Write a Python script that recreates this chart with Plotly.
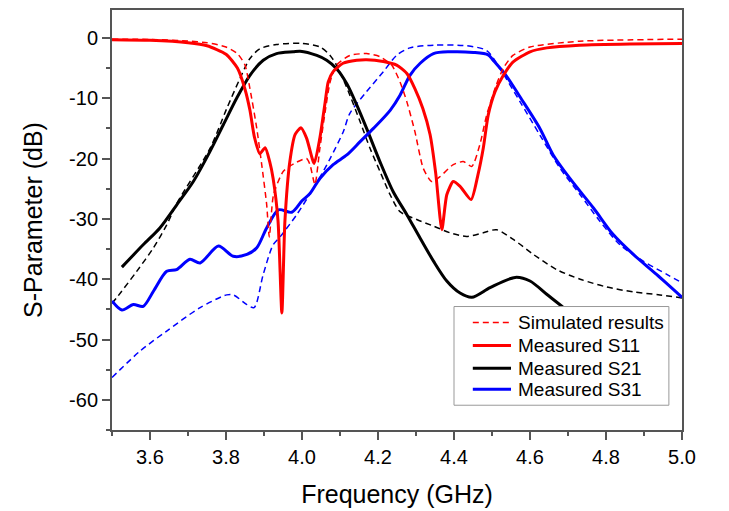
import plotly.graph_objects as go

# ---------------- data ----------------
s11_meas_f = [3.50, 3.60, 3.70, 3.75, 3.80, 3.83, 3.85, 3.863, 3.875, 3.889, 3.903, 3.915, 3.924, 3.937,
              3.947, 3.955, 3.968, 3.982, 3.997, 4.012, 4.032, 4.047, 4.061, 4.069, 4.082, 4.108, 4.144,
              4.170, 4.214, 4.249, 4.276, 4.297, 4.318, 4.337, 4.352, 4.368, 4.381, 4.398, 4.416, 4.445,
              4.463, 4.477, 4.490, 4.508, 4.530, 4.555, 4.600, 4.644, 4.730, 4.863, 5.000]
s11_meas_db = [-0.3, -0.4, -0.8, -1.3, -2.7, -5.0, -8.5, -12.0, -16.5, -19.2, -18.2, -20.5, -23.3, -30.4,
               -45.6, -30.4, -20.5, -16.0, -14.9, -16.6, -20.8, -16.6, -10.6, -7.3, -5.6, -4.2, -3.7,
               -3.6, -3.9, -4.5, -5.9, -8.4, -11.7, -16.0, -22.5, -31.8, -26.0, -23.8, -24.6, -26.8,
               -22.7, -18.3, -12.8, -8.9, -6.2, -4.0, -2.3, -1.65, -1.2, -1.0, -0.94]

s11_sim_f = [3.50, 3.60, 3.70, 3.75, 3.80, 3.83, 3.85, 3.863, 3.881, 3.894, 3.907, 3.914, 3.925, 3.951,
             3.986, 4.012, 4.021, 4.034, 4.047, 4.061, 4.074, 4.091, 4.126, 4.170, 4.205, 4.236, 4.258,
             4.276, 4.297, 4.319, 4.341, 4.363, 4.398, 4.424, 4.447, 4.468, 4.486, 4.510, 4.530, 4.555,
             4.600, 4.730, 5.000]
s11_sim_db = [-0.2, -0.25, -0.5, -0.8, -1.5, -2.6, -4.5, -8.4, -15.0, -21.0, -27.6, -33.0, -26.0, -22.1,
              -20.6, -20.0, -21.0, -24.3, -18.3, -12.2, -7.3, -4.5, -2.9, -2.6, -3.1, -4.5, -7.3,
              -10.6, -15.5, -21.6, -23.8, -23.0, -21.0, -20.5, -21.3, -17.7, -12.8, -8.0, -5.0, -2.9,
              -1.5, -0.55, -0.2]

s21_meas_f = [3.526, 3.582, 3.626, 3.670, 3.714, 3.758, 3.793, 3.828, 3.863, 3.898, 3.933, 3.977, 3.995,
              4.039, 4.065, 4.091, 4.118, 4.144, 4.170, 4.205, 4.240, 4.276, 4.311, 4.346, 4.381, 4.416,
              4.447, 4.495, 4.561, 4.600, 4.644, 4.688, 4.720]
s21_meas_db = [-38.0, -34.3, -31.5, -27.7, -23.8, -18.8, -14.4, -10.0, -6.2, -3.7, -2.6, -2.3, -2.2,
               -2.9, -3.7, -5.1, -7.6, -11.1, -15.0, -20.5, -25.5, -29.3, -33.2, -37.0, -40.3, -42.3,
               -43.0, -41.4, -39.7, -40.3, -42.5, -44.7, -46.5]

s21_sim_f = [3.500, 3.512, 3.565, 3.609, 3.644, 3.670, 3.758, 3.802, 3.837, 3.863, 3.889, 3.933, 4.000,
             4.047, 4.074, 4.096, 4.126, 4.153, 4.179, 4.205, 4.232, 4.258, 4.302, 4.346, 4.389, 4.433,
             4.477, 4.512, 4.556, 4.609, 4.670, 4.732, 4.802, 4.872, 4.942, 5.000]
s21_sim_db = [-44.0, -43.1, -38.7, -34.8, -31.0, -27.5, -18.3, -11.7, -6.7, -3.4, -1.8, -1.1, -0.9,
              -1.5, -2.9, -5.1, -9.5, -13.9, -18.3, -22.1, -26.0, -28.8, -30.1, -31.2, -32.3, -32.9,
              -32.3, -31.8, -33.4, -35.9, -38.4, -40.0, -41.3, -42.1, -42.6, -43.1]

s31_meas_f = [3.500, 3.526, 3.556, 3.582, 3.609, 3.644, 3.670, 3.705, 3.732, 3.780, 3.819, 3.855, 3.881,
              3.907, 3.938, 3.973, 4.000, 4.021, 4.047, 4.082, 4.118, 4.153, 4.188, 4.232, 4.258, 4.284,
              4.311, 4.346, 4.389, 4.451, 4.490, 4.503, 4.539, 4.574, 4.626, 4.661, 4.705, 4.767, 4.819,
              4.872, 4.933, 5.000]
s31_meas_db = [-43.6, -45.1, -44.2, -44.5, -42.0, -38.7, -38.4, -36.7, -37.3, -34.5, -36.2, -35.9, -34.8,
               -31.5, -28.5, -28.9, -27.0, -25.8, -23.3, -21.0, -19.4, -17.2, -15.0, -12.0, -9.5, -6.2,
               -4.2, -2.6, -2.3, -2.4, -2.8, -3.7, -6.4, -9.8, -15.0, -19.4, -23.3, -28.2, -32.6,
               -35.9, -39.2, -43.0]

s31_sim_f = [3.500, 3.574, 3.644, 3.732, 3.802, 3.819, 3.855, 3.874, 3.898, 3.924, 3.942, 3.986, 4.039,
             4.074, 4.109, 4.126, 4.170, 4.214, 4.249, 4.284, 4.346, 4.433, 4.486, 4.521, 4.574, 4.626,
             4.679, 4.732, 4.784, 4.837, 4.898, 4.960, 5.000]
s31_sim_db = [-56.3, -51.9, -48.6, -44.7, -42.6, -42.6, -44.2, -44.7, -39.2, -34.3, -33.0, -29.3, -24.0,
              -20.0, -15.5, -12.5, -8.9, -5.6, -2.9, -1.65, -1.2, -1.3, -2.1, -5.1, -10.6, -16.1,
              -21.6, -26.0, -30.4, -34.3, -37.0, -39.2, -40.6]

legend_names = ["Simulated results", "Measured S11", "Measured S21", "Measured S31"]
y_tick_vals = [0, -10, -20, -30, -40, -50, -60]
y_tick_text = ["0", "-10", "-20", "-30", "-40", "-50", "-60"]
x_range = [3.5, 5.0]
y_range = [-65, 4.63]

# ---------------- styles ----------------
RED, BLACK, BLUE = "#ff0000", "#000000", "#0000ff"
DASH = "6px,4px"
FONT = "Liberation Sans, Arial, sans-serif"
AX = "#555555"

legend_styles = [
    dict(color=RED, width=1.5, dash=DASH),
    dict(color=RED, width=3),
    dict(color=BLACK, width=3),
    dict(color=BLUE, width=3),
]

fig = go.Figure()
sm = dict(shape="spline", smoothing=0.8)

fig.add_trace(go.Scatter(x=s21_sim_f, y=s21_sim_db, mode="lines", name="Simulated S21",
                         line=dict(color=BLACK, width=1.5, dash=DASH, **sm)))
fig.add_trace(go.Scatter(x=s31_sim_f, y=s31_sim_db, mode="lines", name="Simulated S31",
                         line=dict(color=BLUE, width=1.5, dash=DASH, **sm)))
fig.add_trace(go.Scatter(x=s21_meas_f, y=s21_meas_db, mode="lines", name=legend_names[2],
                         line=dict(color=BLACK, width=3, **sm)))
fig.add_trace(go.Scatter(x=s31_meas_f, y=s31_meas_db, mode="lines", name=legend_names[3],
                         line=dict(color=BLUE, width=3, **sm)))
fig.add_trace(go.Scatter(x=s11_meas_f, y=s11_meas_db, mode="lines", name=legend_names[1],
                         line=dict(color=RED, width=3, shape="spline", smoothing=0.6)))
fig.add_trace(go.Scatter(x=s11_sim_f, y=s11_sim_db, mode="lines", name=legend_names[0],
                         line=dict(color=RED, width=1.5, dash=DASH, shape="spline", smoothing=0.6)))

# ---------------- legend box (drawn in paper coordinates) ----------------
box_x0, box_x1, box_y0, box_y1 = 0.600, 0.977, 0.059, 0.294
sample_x0, sample_x1, text_x = 0.633, 0.700, 0.709
row_y = [0.256, 0.201, 0.147, 0.097]

shapes = [dict(type="rect", xref="paper", yref="paper", x0=box_x0, x1=box_x1, y0=box_y0, y1=box_y1,
               fillcolor="white", line=dict(color="#999999", width=1), layer="above")]
annotations = []
for name, st, ry in zip(legend_names, legend_styles, row_y):
    shapes.append(dict(type="line", xref="paper", yref="paper", x0=sample_x0, x1=sample_x1,
                       y0=ry, y1=ry, line=st, layer="above"))
    annotations.append(dict(text=name, xref="paper", yref="paper", x=text_x, y=ry,
                            xanchor="left", yanchor="middle", showarrow=False,
                            font=dict(size=19, color="black", family=FONT)))

fig.update_layout(
    width=729, height=511,
    margin=dict(l=104, r=55, t=0, b=89),
    paper_bgcolor="white", plot_bgcolor="white",
    font=dict(family=FONT, size=20, color="black"),
    showlegend=False,
    shapes=shapes, annotations=annotations,
    xaxis=dict(range=x_range, tick0=3.6, dtick=0.2, tickformat=".1f",
               ticks="outside", ticklen=8, tickwidth=1.5, tickcolor=AX,
               minor=dict(tick0=3.5, dtick=0.1, ticks="outside", ticklen=4, tickcolor=AX, tickwidth=1.5),
               showline=True, linecolor=AX, linewidth=2, mirror=True,
               showgrid=False, zeroline=False,
               title=dict(text="Frequency (GHz)", font=dict(size=25), standoff=18),
               tickfont=dict(size=20)),
    yaxis=dict(range=y_range, tickmode="array", tickvals=y_tick_vals, ticktext=y_tick_text,
               ticks="outside", ticklen=8, tickwidth=1.5, tickcolor=AX,
               minor=dict(tick0=-5, dtick=5, ticks="outside", ticklen=4, tickcolor=AX, tickwidth=1.5),
               showline=True, linecolor=AX, linewidth=2, mirror=True,
               showgrid=False, zeroline=False,
               title=dict(text="S-Parameter (dB)", font=dict(size=25), standoff=19),
               tickfont=dict(size=20)),
)

fig.write_html("out.html")
